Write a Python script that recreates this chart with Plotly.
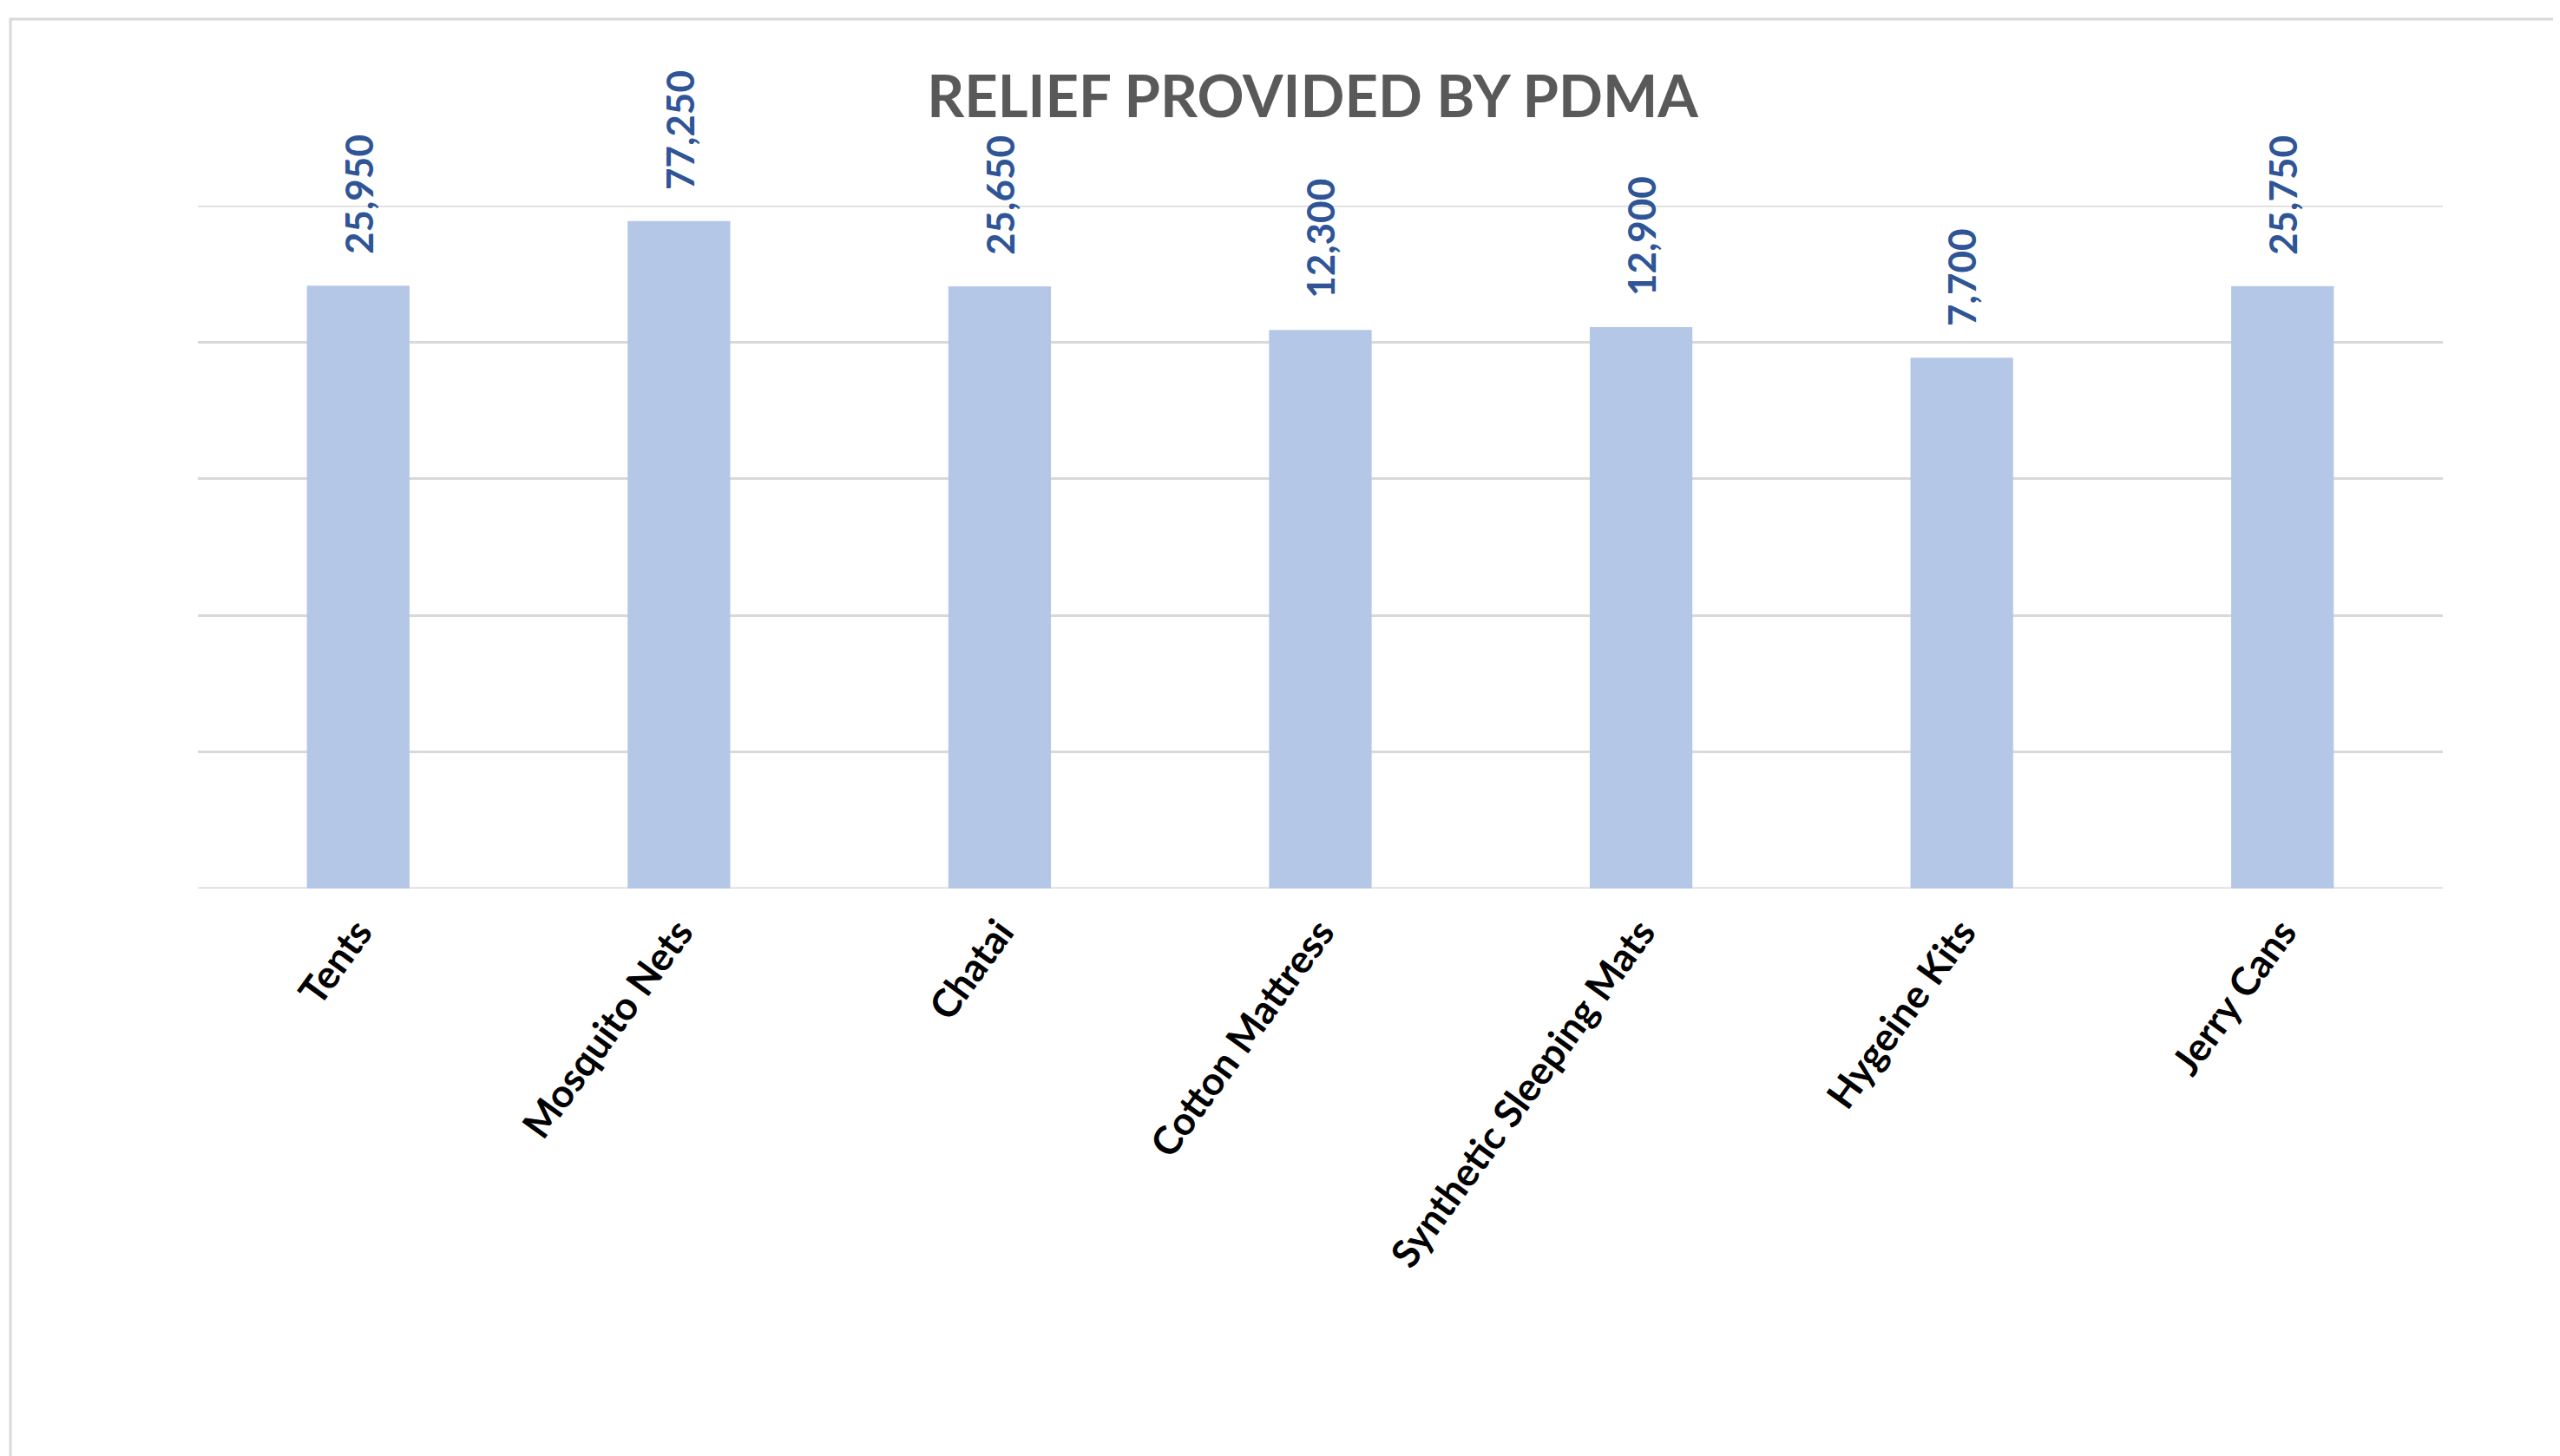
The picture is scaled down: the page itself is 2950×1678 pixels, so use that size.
import math
import plotly.graph_objects as go

categories = ["Tents", "Mosquito Nets", "Chatai", "Cotton Mattress",
              "Synthetic Sleeping Mats", "Hygeine Kits", "Jerry Cans"]
values = [25950, 77250, 25650, 12300, 12900, 7700, 25750]
value_labels = [f"{v:,}" for v in values]
y_min, y_max = 1, 100000

W, H = 2950, 1678
ml, mr, mt, mb = 220, 143, 229, 662

fig = go.Figure()
fig.add_trace(go.Bar(
    x=categories, y=values,
    marker=dict(color="#B4C7E7", line=dict(width=0)),
    hoverinfo="x+y",
))

for c, v, t in zip(categories, values, value_labels):
    fig.add_annotation(
        x=c, y=math.log10(v), yref="y", xref="x",
        text=t, textangle=-90, showarrow=False,
        xanchor="center", yanchor="bottom", yshift=34,
        font=dict(family="Lato", size=44, color="#2F5597", weight="bold"),
    )

# boundary gridlines (bottom axis line and top gridline)
for yv in (y_min, y_max):
    fig.add_shape(
        type="line", xref="paper", yref="y",
        x0=0, x1=1, y0=yv, y1=yv,
        line=dict(color="#D9D9D9", width=3), layer="below",
    )

pw = W - ml - mr
ph = H - mt - mb
fig.add_shape(
    type="rect", xref="paper", yref="paper",
    x0=(4 - ml) / pw, x1=(2942 - ml) / pw,
    y0=(H - mb - 1700) / ph, y1=(H - mb - 14) / ph,
    line=dict(color="#D9D9D9", width=3), fillcolor="rgba(0,0,0,0)",
    layer="below",
)

fig.update_layout(
    width=W, height=H,
    margin=dict(l=ml, r=mr, t=mt, b=mb),
    paper_bgcolor="white", plot_bgcolor="white",
    bargap=0.68,
    showlegend=False,
    title=dict(
        text="RELIEF PROVIDED BY PDMA",
        x=0.5100, xanchor="center", xref="container",
        y=1 - 104 / H, yanchor="middle", yref="container",
        font=dict(family="Lato", size=67, color="#595959", weight="bold"),
    ),
    xaxis=dict(
        tickangle=-54,
        tickfont=dict(family="Lato", size=45, color="#000000", weight="bold"),
        showgrid=False, showline=False, ticks="",
        ticklabelstandoff=14,
    ),
    yaxis=dict(
        type="log", range=[math.log10(y_min), math.log10(y_max)], dtick=1,
        showticklabels=False, ticks="",
        showgrid=True, gridcolor="#D9D9D9", gridwidth=3,
        zeroline=False, showline=False,
    ),
)

fig.write_html("out.html")
